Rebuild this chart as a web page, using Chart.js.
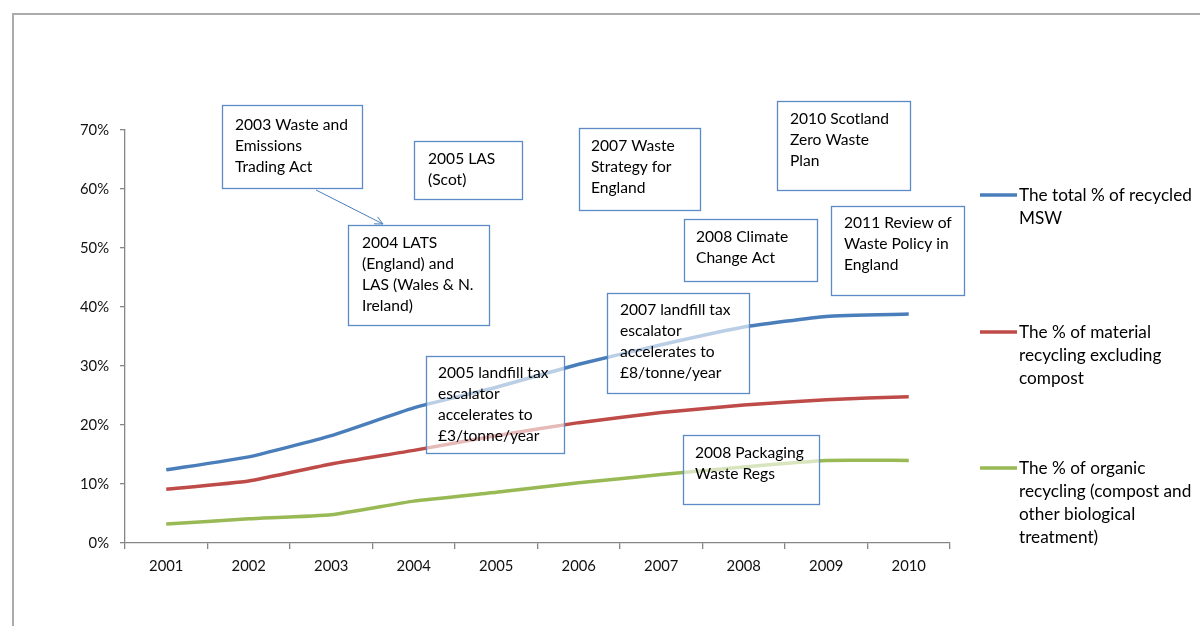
<!DOCTYPE html>
<html>
<head>
<meta charset="utf-8">
<script src="https://cdn.jsdelivr.net/npm/chart.js@4.4.1/dist/chart.umd.min.js"></script>
<style>
html,body{margin:0;padding:0;background:#fff;}
#wrap{width:1200px;height:626px;position:relative;overflow:hidden;}
</style>
</head>
<body>
<div id="wrap"><canvas id="c" width="1200" height="626"></canvas></div>
<script>
// ---- Data ----
const years = ['2001','2002','2003','2004','2005','2006','2007','2008','2009','2010'];
const totalRecycled     = [12.4, 14.6, 18.2, 22.9, 26.4, 30.3, 33.6, 36.6, 38.4, 38.8];
const materialRecycling = [9.1, 10.5, 13.4, 15.7, 18.2, 20.4, 22.1, 23.4, 24.3, 24.8];
const organicRecycling  = [3.2, 4.1, 4.8, 7.1, 8.6, 10.2, 11.6, 12.9, 14.0, 14.0];
const yTickValues = [0, 10, 20, 30, 40, 50, 60, 70];
const seriesLabels = [
  ['The total % of recycled', 'MSW'],
  ['The % of material', 'recycling excluding', 'compost'],
  ['The % of organic', 'recycling (compost and', 'other biological', 'treatment)']
];
const annotationTexts = [
  ['2003 Waste and', 'Emissions', 'Trading Act'],
  ['2004 LATS', '(England) and', 'LAS (Wales & N.', 'Ireland)'],
  ['2005 LAS', '(Scot)'],
  ['2007 Waste', 'Strategy for', 'England'],
  ['2010 Scotland', 'Zero Waste', 'Plan'],
  ['2008 Climate', 'Change Act'],
  ['2011 Review of', 'Waste Policy in', 'England'],
  ['2007 landfill tax', 'escalator', 'accelerates to', '£8/tonne/year'],
  ['2005 landfill tax', 'escalator', 'accelerates to', '£3/tonne/year'],
  ['2008 Packaging', 'Waste Regs']
];

// ---- Layout / style (kept separate from data) ----
const FONT = "Lato, 'Open Sans', sans-serif";
const colors = ['#4A7EBB', '#BE4B48', '#98B954'];
const boxGeom = [ // x1, y1, x2, y2, textX, firstLineY
  [222, 105, 362, 188, 235, 125],
  [348, 225, 489, 325, 362, 243],
  [414, 141, 522, 199, 428, 159],
  [579, 128, 700, 210, 591, 146],
  [777, 101, 910, 190, 790, 119],
  [684, 219, 817, 281, 696, 237],
  [831, 206, 964, 295, 844, 223],
  [607, 293, 749, 393, 620, 310],
  [426, 356, 564, 453, 438, 373],
  [683, 435, 819, 504, 695, 453]
];
const legendTop = [195, 332, 468];

const framePlugin = {
  id: 'frame',
  beforeDraw(chart) {
    const ctx = chart.ctx;
    ctx.save();
    ctx.fillStyle = '#ffffff';
    ctx.fillRect(0, 0, chart.width, chart.height);
    ctx.strokeStyle = '#ababab';
    ctx.lineWidth = 2;
    ctx.beginPath();
    ctx.moveTo(13, chart.height + 5);
    ctx.lineTo(13, 14);
    ctx.lineTo(chart.width + 5, 14);
    ctx.stroke();
    ctx.restore();
  }
};

const overlayPlugin = {
  id: 'overlay',
  afterDatasetsDraw(chart) {
    const ctx = chart.ctx;
    ctx.save();
    // arrow from 2003 box to 2004 box
    ctx.strokeStyle = '#4A7EBB';
    ctx.lineWidth = 1;
    const ax1 = 316, ay1 = 190, ax2 = 383, ay2 = 224;
    ctx.beginPath(); ctx.moveTo(ax1, ay1); ctx.lineTo(ax2, ay2); ctx.stroke();
    const ang = Math.atan2(ay2 - ay1, ax2 - ax1), L = 9, spread = 0.45;
    ctx.beginPath();
    ctx.moveTo(ax2 - L * Math.cos(ang - spread), ay2 - L * Math.sin(ang - spread));
    ctx.lineTo(ax2, ay2);
    ctx.lineTo(ax2 - L * Math.cos(ang + spread), ay2 - L * Math.sin(ang + spread));
    ctx.stroke();

    ctx.font = '15.6px ' + FONT;
    ctx.textBaseline = 'middle';
    ctx.textAlign = 'left';
    annotationTexts.forEach((lines, i) => {
      const [x1, y1, x2, y2, tx, ty] = boxGeom[i];
      ctx.fillStyle = 'rgba(255,255,255,0.62)';
      ctx.fillRect(x1, y1, x2 - x1, y2 - y1);
      ctx.strokeStyle = '#5B8AC6';
      ctx.lineWidth = 1.3;
      ctx.strokeRect(x1 + 0.5, y1 + 0.5, x2 - x1, y2 - y1);
      ctx.fillStyle = '#000000';
      lines.forEach((t, j) => ctx.fillText(t, tx, ty + j * 21));
    });
    ctx.restore();
  },
  afterDraw(chart) {
    const ctx = chart.ctx;
    ctx.save();
    ctx.font = '17.2px ' + FONT;
    ctx.textBaseline = 'middle';
    ctx.textAlign = 'left';
    seriesLabels.forEach((lines, i) => {
      const y = legendTop[i];
      ctx.strokeStyle = colors[i];
      ctx.lineWidth = 3.5;
      ctx.beginPath(); ctx.moveTo(980, y); ctx.lineTo(1017, y); ctx.stroke();
      ctx.fillStyle = '#000000';
      lines.forEach((t, j) => ctx.fillText(t, 1019, y + j * 23));
    });
    ctx.restore();
  }
};

const mk = (data, i) => ({
  label: seriesLabels[i].join(' '),
  data: data,
  borderColor: colors[i],
  backgroundColor: colors[i],
  borderWidth: 3.5,
  pointRadius: 0,
  tension: 0.15,
  fill: false
});

new Chart(document.getElementById('c'), {
  type: 'line',
  data: {
    labels: years,
    datasets: [mk(totalRecycled, 0), mk(materialRecycling, 1), mk(organicRecycling, 2)]
  },
  options: {
    responsive: false,
    animation: false,
    devicePixelRatio: 1,
    layout: { padding: { top: 130, right: 250, left: 0, bottom: 0 } },
    plugins: { legend: { display: false }, tooltip: { enabled: false } },
    scales: {
      x: {
        type: 'category',
        offset: true,
        grid: { offset: true, drawOnChartArea: false, drawTicks: true, tickLength: 6, color: '#868686', lineWidth: 1.3 },
        border: { color: '#868686', width: 1.3 },
        ticks: { color: '#111', font: { family: FONT, size: 14.8 }, padding: 8, maxRotation: 0 },
        afterFit(s) { s.height = 83; }
      },
      y: {
        min: 0, max: 70,
        afterBuildTicks(s) { s.ticks = yTickValues.map(v => ({ value: v })); },
        grid: { drawOnChartArea: false, drawTicks: true, tickLength: 5, color: '#868686', lineWidth: 1.3 },
        border: { color: '#868686', width: 1.3 },
        ticks: { color: '#111', font: { family: FONT, size: 14.8 }, padding: 11, callback: v => v + '%' },
        afterFit(s) { s.width = 125; }
      }
    }
  },
  plugins: [framePlugin, overlayPlugin]
});
</script>
</body>
</html>
